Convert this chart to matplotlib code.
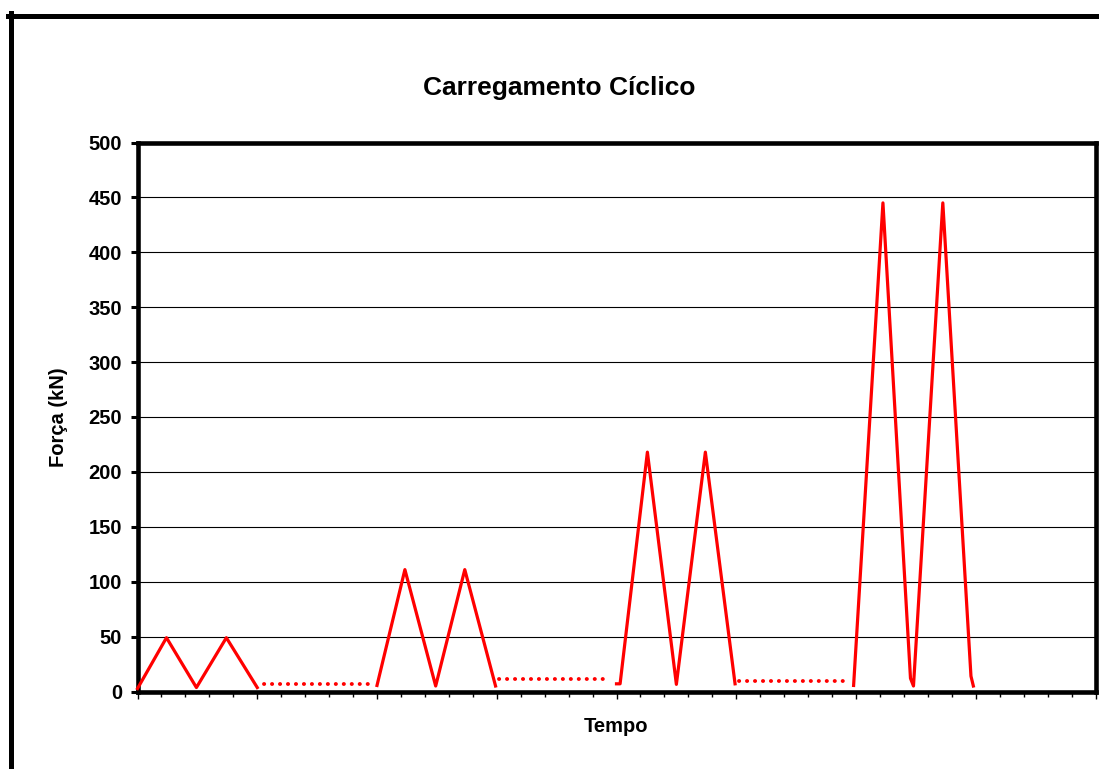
import numpy as np
import matplotlib.pyplot as plt
from matplotlib.lines import Line2D
from matplotlib.ticker import MultipleLocator

plt.rcParams["font.family"] = ["Liberation Sans", "DejaVu Sans"]
plt.rcParams["font.weight"] = "bold"

# ciclos de carga (tempo em unidades arbitrárias, força em kN)
t_ciclo1 = [0.0, 0.242, 0.492, 0.742, 1.0]
f_ciclo1 = [2.7, 49, 3.6, 49, 3.6]

t_ciclo2 = [2.0, 2.233, 2.49, 2.733, 2.99]
f_ciclo2 = [5.5, 111, 5, 111, 5]

t_ciclo3 = [4.0, 4.03, 4.258, 4.5, 4.742, 4.99]
f_ciclo3 = [7, 7, 218, 6.5, 218, 7]

t_ciclo4 = [5.98, 6.225, 6.455, 6.48, 6.725, 6.96, 6.98]
f_ciclo4 = [5.5, 445, 12, 5, 445, 14, 5]

# intervalos entre ciclos (carga mantida)
t_pausa = [[1.06, 1.96], [3.02, 3.89], [5.02, 5.89]]
f_pausa = [[6.5, 6.5], [11, 11], [10, 10]]

W, H = 1099, 769
fig = plt.figure(figsize=(W / 100, H / 100), dpi=100)
ax = fig.add_axes([137.5 / W, 1 - 691.5 / H, 958 / W, 549 / H])

for t, f in [(t_ciclo1, f_ciclo1), (t_ciclo2, f_ciclo2),
             (t_ciclo3, f_ciclo3), (t_ciclo4, f_ciclo4)]:
    ax.plot(t, f, color="#ff0000", lw=2.3, zorder=3, clip_on=False,
            solid_joinstyle="round")

for t, f in zip(t_pausa, f_pausa):
    ax.plot(t, f, color="#ff0000", lw=2.8, zorder=3,
            linestyle=(0, (0.05, 2.0)), dash_capstyle="round")

ax.set_xlim(0, 8)
ax.set_ylim(0, 500)
ax.yaxis.set_major_locator(MultipleLocator(50))
ax.xaxis.set_major_locator(MultipleLocator(1))
ax.xaxis.set_minor_locator(MultipleLocator(0.2))
ax.set_xticklabels([])
ax.grid(axis="y", color="black", lw=0.8, zorder=1)
ax.set_axisbelow(True)

for s in ax.spines.values():
    s.set_linewidth(3.3)
ax.tick_params(axis="y", length=5, width=2.2, pad=6, labelsize=14.5)
ax.tick_params(axis="x", which="major", length=5, width=1)
ax.tick_params(axis="x", which="minor", length=3.5, width=1)

fig.text(559 / W, 1 - 88 / H, "Carregamento Cíclico", fontsize=19,
         fontweight="bold", ha="center", va="center")
fig.text(616 / W, 1 - 727 / H, "Tempo", fontsize=14.5,
         fontweight="bold", ha="center", va="center")
fig.text(58 / W, 1 - 417 / H, "Força (kN)", fontsize=14.5,
         fontweight="bold", ha="center", va="center", rotation=90)

# moldura externa do gráfico
fig.add_artist(Line2D([10.5 / W, 10.5 / W], [1 - 13 / H, 0],
                      color="black", lw=3.6, transform=fig.transFigure))
fig.add_artist(Line2D([8 / W, 1.0], [1 - 15.5 / H, 1 - 15.5 / H],
                      color="black", lw=3.6, transform=fig.transFigure))

fig.savefig("out.png", dpi=100)
